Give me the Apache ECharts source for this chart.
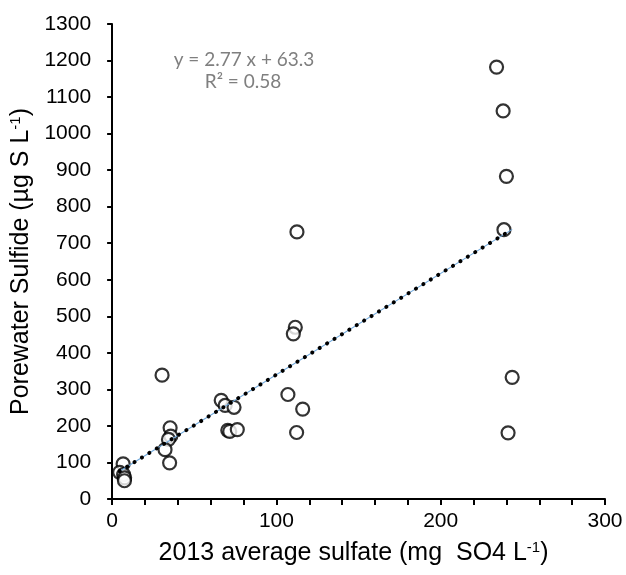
<!DOCTYPE html>
<html>
<head>
<meta charset="utf-8">
<script src="https://cdn.jsdelivr.net/npm/echarts@6/dist/echarts.min.js"></script>
<style>
html,body{margin:0;padding:0;background:#fff;}
#chart{width:626px;height:575px;}
</style>
</head>
<body>
<div id="chart"></div>
<script>
// Data
var sulfateX = [234, 238, 240, 238.5, 243.5, 241, 112.5, 111.5, 110.3, 107, 116, 112.3, 30.4, 66.4, 68.8, 74.2, 70.4, 71.6, 76.2, 35.3, 35.7, 34.3, 32.2, 35, 6.7, 4.6, 7, 7.6, 7.5];
var sulfideY = [1182, 1062, 883, 737, 333, 181, 731, 470, 452, 286, 246, 182, 339, 270, 256, 251, 188, 185, 190, 195, 172, 163, 135, 99, 96, 73, 67, 58, 50];
var trendX = [4.6, 243.5];
var trendY = [76, 738];
var equationLines = ['y = 2.77 x + 63.3', 'R\u00b2 = 0.58'];

var points = sulfateX.map(function (x, i) { return [x, sulfideY[i]]; });
var trend = trendX.map(function (x, i) { return [x, trendY[i]]; });

var chart = echarts.init(document.getElementById('chart'), null, {renderer: 'canvas'});
var axisFont = 'Liberation Sans, Arial, sans-serif';
var supStyle = {fontSize: 15, fontFamily: axisFont, color: '#000', padding: [0, 0, 11, 0]};

chart.setOption({
  animation: false,
  backgroundColor: '#ffffff',
  grid: {left: 109, right: 21, top: 24, bottom: 76, containLabel: false},
  xAxis: {
    type: 'value', min: 0, max: 300, interval: 20,
    splitLine: {show: false},
    axisLine: {lineStyle: {color: '#000', width: 2}},
    axisTick: {show: true, length: 6, inside: false, lineStyle: {color: '#000', width: 2}},
    axisLabel: {
      margin: 12, color: '#000', fontSize: 21, fontFamily: axisFont,
      formatter: function (v) { return v % 100 === 0 ? String(v) : ''; }
    },
    name: '2013 average sulfate (mg  SO4 L{sup|-1})',
    nameLocation: 'middle', nameGap: 41,
    nameTextStyle: {color: '#000', fontSize: 25, fontFamily: axisFont, rich: {sup: supStyle}, padding: [0, 10, 0, 0]}
  },
  yAxis: {
    type: 'value', min: 0, max: 1300, interval: 100,
    splitLine: {show: false},
    axisLine: {show: true, lineStyle: {color: '#000', width: 2}},
    axisTick: {show: true, length: 5, inside: false, lineStyle: {color: '#000', width: 2}},
    axisLabel: {margin: 21, color: '#000', fontSize: 21, fontFamily: axisFont,
      formatter: function (v) { return String(v); }},
    name: 'Porewater Sulfide (\u00b5g S L{sup|-1})',
    nameLocation: 'middle', nameRotate: 90, nameGap: 67,
    nameTextStyle: {color: '#000', fontSize: 25, fontFamily: axisFont, rich: {sup: supStyle}}
  },
  graphic: [
    {type: 'text', x: 244, y: 60, style: {text: equationLines[0], fill: '#7f7f7f', font: '19px Lato, sans-serif', textAlign: 'center', textVerticalAlign: 'middle'}},
    {type: 'text', x: 243, y: 82, style: {text: equationLines[1], fill: '#7f7f7f', font: '19px Lato, sans-serif', textAlign: 'center', textVerticalAlign: 'middle'}}
  ],
  series: [
    {
      type: 'scatter', data: points, symbol: 'circle', symbolSize: 13, z: 2,
      itemStyle: {color: '#ffffff', borderColor: '#000', borderWidth: 2.2}
    },
    {
      type: 'line', data: trend, symbol: 'none', z: 3, silent: true,
      lineStyle: {color: '#6fa8dc', width: 1.1}
    },
    {
      type: 'line', data: trend, symbol: 'none', z: 4, silent: true,
      lineStyle: {color: '#000', width: 4, type: [0.1, 8.6], cap: 'round'}
    }
  ]
});
</script>
</body>
</html>
